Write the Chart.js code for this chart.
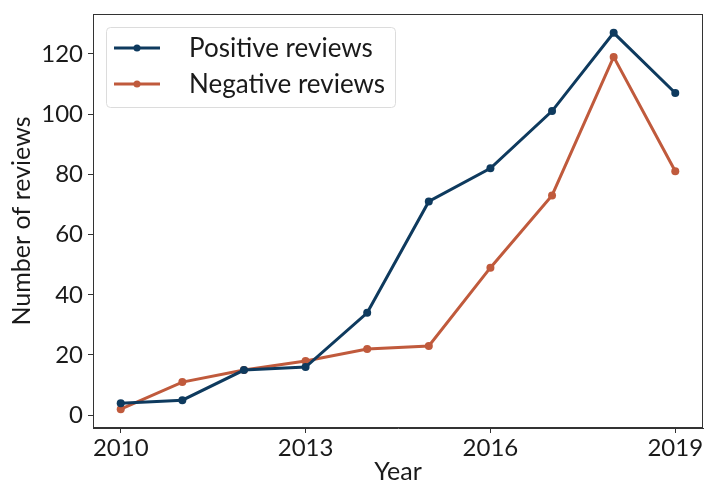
<!DOCTYPE html>
<html>
<head>
<meta charset="utf-8">
<script src="https://cdn.jsdelivr.net/npm/chart.js@4"></script>
<style>
  html, body { margin: 0; padding: 0; background: #fff; }
  #wrap { width: 707px; height: 487px; }
</style>
</head>
<body>
<div id="wrap"><canvas id="myChart" width="707" height="487"></canvas></div>
<script>
const years = [2010, 2011, 2012, 2013, 2014, 2015, 2016, 2017, 2018, 2019];
const positive = [4, 5, 15, 16, 34, 71, 82, 101, 127, 107];
const negative = [2, 11, 15, 18, 22, 23, 49, 73, 119, 81];
const xTicks = [2010, 2013, 2016, 2019];
const yTicks = [0, 20, 40, 60, 80, 100, 120];

const blue = '#0e3a5e';
const orange = '#c05a3c';
const FONT = 'Lato, "DejaVu Sans", sans-serif';

Chart.defaults.font.family = FONT;
Chart.defaults.color = '#1a1a1a';

// box around plot + legend inside top-left
const frame = {
  id: 'frame',
  afterDatasetsDraw(chart) {
    const { ctx, chartArea: a } = chart;
    ctx.save();
    ctx.strokeStyle = '#333';
    ctx.lineWidth = 1;
    ctx.strokeRect(a.left + 0.5, a.top + 0.5, a.right - a.left - 1, a.bottom - a.top - 1);

    // legend
    const x0 = a.left + 13, y0 = a.top + 13, w = 289, h = 80;
    ctx.fillStyle = 'rgba(255,255,255,0.8)';
    ctx.strokeStyle = '#dcdcdc';
    ctx.beginPath();
    ctx.roundRect(x0 + 0.5, y0 + 0.5, w, h, 4);
    ctx.fill();
    ctx.stroke();
    chart.data.datasets.forEach((ds, i) => {
      const cy = y0 + 21 + i * 36;
      ctx.strokeStyle = ds.borderColor;
      ctx.lineWidth = 3;
      ctx.beginPath();
      ctx.moveTo(x0 + 8, cy);
      ctx.lineTo(x0 + 54, cy);
      ctx.stroke();
      ctx.fillStyle = ds.borderColor;
      ctx.beginPath();
      ctx.arc(x0 + 31, cy, 3.5, 0, Math.PI * 2);
      ctx.fill();
      ctx.fillStyle = '#1a1a1a';
      ctx.font = '26px ' + FONT;
      ctx.textBaseline = 'middle';
      ctx.textAlign = 'left';
      ctx.fillText(ds.label, x0 + 83, cy + 1);
    });
    ctx.restore();
  }
};

new Chart(document.getElementById('myChart'), {
  type: 'line',
  data: {
    datasets: [
      {
        label: 'Positive reviews',
        data: years.map((y, i) => ({ x: y, y: positive[i] })),
        borderColor: blue,
        backgroundColor: blue,
        borderWidth: 3,
        pointRadius: 4,
        pointBorderWidth: 0,
        pointHoverRadius: 4,
        tension: 0
      },
      {
        label: 'Negative reviews',
        data: years.map((y, i) => ({ x: y, y: negative[i] })),
        borderColor: orange,
        backgroundColor: orange,
        borderWidth: 3,
        pointRadius: 4,
        pointBorderWidth: 0,
        pointHoverRadius: 4,
        tension: 0
      }
    ]
  },
  options: {
    responsive: false,
    animation: false,
    layout: { padding: { left: 0, right: 1, top: 14, bottom: 0 } },
    plugins: {
      legend: { display: false },
      tooltip: { enabled: false }
    },
    scales: {
      x: {
        type: 'linear',
        min: 2009.55,
        max: 2019.45,
        afterBuildTicks: (s) => { s.ticks = xTicks.map(v => ({ value: v })); },
        afterFit: (s) => { s.height = 59; s.paddingLeft = 0; s.paddingRight = 0; },
        grid: { drawOnChartArea: false, tickLength: 5, color: '#333', tickColor: '#333' },
        border: { color: '#333' },
        ticks: {
          font: { size: 24 },
          color: '#1a1a1a',
          padding: 1,
          maxRotation: 0,
          callback: (v) => String(v)
        },
        title: {
          display: true,
          text: 'Year',
          font: { size: 25 },
          color: '#1a1a1a',
          padding: { top: 0, bottom: 0 }
        }
      },
      y: {
        min: -4.25,
        max: 133.25,
        afterBuildTicks: (s) => { s.ticks = yTicks.map(v => ({ value: v })); },
        afterFit: (s) => { s.width = 93; s.paddingTop = 0; s.paddingBottom = 0; },
        grid: { drawOnChartArea: false, tickLength: 5, color: '#333', tickColor: '#333' },
        border: { color: '#333' },
        ticks: {
          font: { size: 24 },
          color: '#1a1a1a',
          padding: 5
        },
        title: {
          display: true,
          text: 'Number of reviews',
          font: { size: 25 },
          color: '#1a1a1a',
          padding: { top: 7, bottom: 0 }
        }
      }
    }
  },
  plugins: [frame]
});
</script>
</body>
</html>
